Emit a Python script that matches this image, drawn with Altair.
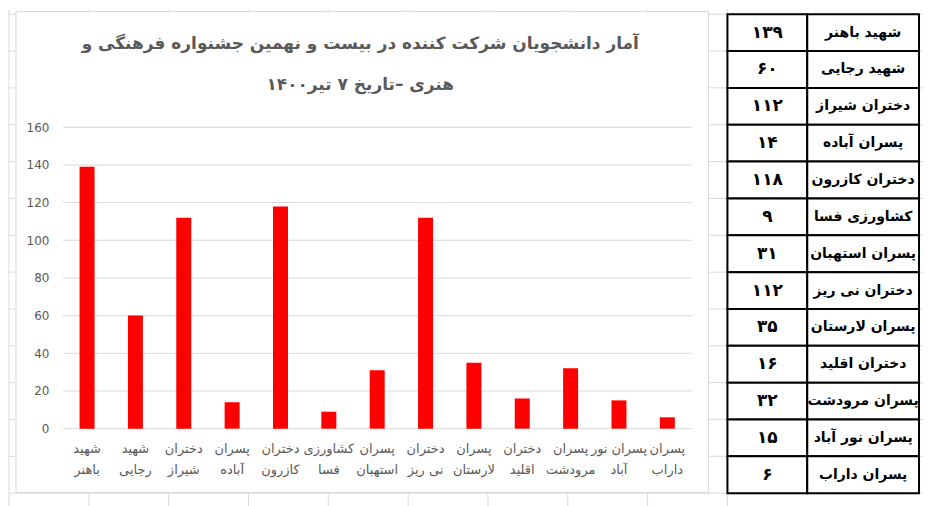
import altair as alt
import pandas as pd

# ---------------- data ----------------
categories = ["شهید باهنر", "شهید رجایی", "دختران شیراز", "پسران آباده", "دختران کازرون",
              "کشاورزی فسا", "پسران استهبان", "دختران نی ریز", "پسران لارستان", "دختران اقلید",
              "پسران مرودشت", "پسران نور آباد", "پسران داراب"]
axis_labels = ["شهید|باهنر", "شهید|رجایی", "دختران|شیراز", "پسران|آباده", "دختران|کازرون",
               "کشاورزی|فسا", "پسران|استهبان", "دختران|نی ریز", "پسران|لارستان", "دختران|اقلید",
               "پسران|مرودشت", "پسران نور|آباد", "پسران|داراب"]
values = [139, 60, 112, 14, 118, 9, 31, 112, 35, 16, 32, 15, 6]
values_fa = ["۱۳۹", "۶۰", "۱۱۲", "۱۴", "۱۱۸", "۹", "۳۱", "۱۱۲", "۳۵", "۱۶", "۳۲", "۱۵", "۶"]
y_ticks = [0, 20, 40, 60, 80, 100, 120, 140, 160]
title_lines = ["آمار دانشجویان شرکت کننده در بیست و نهمین جشنواره فرهنگی و",
               "هنری –تاریخ ۷ تیر۱۴۰۰"]

bars_df = pd.DataFrame({"label": axis_labels, "name": categories, "value": values})
ticks_df = pd.DataFrame({"value": y_ticks})
table_df = pd.DataFrame({"name": categories, "value_fa": values_fa})
one = pd.DataFrame({"k": [0]})

# ---------------- style ----------------
FONT = "DejaVu Sans"
TXT = "#595959"
GRID = "#d9d9d9"
EXCEL = "#dadada"
W, H = 630, 302

# Excel sheet gridlines behind the chart frame (decoration)
excel_v = [-54, 26, 106, 186, 266, 346, 426, 506, 586, 666]
excel_h = [-113.3 + 36.92 * k for k in range(14)]
deco = []
for xv in excel_v:
    deco.append(alt.Chart(one).mark_rule(color=EXCEL, strokeWidth=1).encode(
        x=alt.value(xv), y=alt.value(-118), y2=alt.value(380)))
for yv in excel_h:
    deco.append(alt.Chart(one).mark_rule(color=EXCEL, strokeWidth=1).encode(
        y=alt.value(yv), x=alt.value(-54), x2=alt.value(862)))

frame = alt.Chart(one).mark_rect(fill="white", stroke=GRID, strokeWidth=1).encode(
    x=alt.value(-47), x2=alt.value(647), y=alt.value(-116), y2=alt.value(366))

title = alt.Chart(one).mark_text(
    text=title_lines, font=FONT, fontSize=17, fontWeight="bold", color=TXT,
    align="center", baseline="middle", lineHeight=41,
).encode(x=alt.value(298), y=alt.value(-83))

y_axis = alt.Axis(values=y_ticks, labelFont=FONT, labelFontSize=12, labelColor=TXT,
                  grid=False, domain=False, ticks=False, labelPadding=14,
                  labelOverlap=False, zindex=1)
y_enc = alt.Y("value:Q", scale=alt.Scale(domain=[0, 160]), title=None, axis=y_axis)

gridlines = alt.Chart(ticks_df).mark_rule(color=GRID, strokeWidth=1).encode(y=y_enc)

bars = alt.Chart(bars_df).mark_bar(color="#ff0000").encode(
    x=alt.X("label:N", sort=axis_labels, title=None,
            scale=alt.Scale(paddingInner=0.69, paddingOuter=0.345),
            axis=alt.Axis(labelExpr="split(datum.label, '|')", labelAngle=0, labelFont=FONT,
                          labelFontSize=13, labelColor=TXT, labelLineHeight=21, labelPadding=14,
                          labelBaseline="top", ticks=False, domain=False, grid=False,
                          labelOverlap=False, zindex=1)),
    y=y_enc,
)

plot = alt.layer(gridlines, bars)

# ---------------- table ----------------
row_y = alt.Y("name:N", sort=categories, axis=None,
              scale=alt.Scale(paddingInner=0, paddingOuter=0, range=[-113.3, 366.7]))
tbase = alt.Chart(table_df)
cell_v = tbase.mark_rect(fill="white", stroke="black", strokeWidth=2).encode(
    y=row_y, x=alt.value(666), x2=alt.value(746))
cell_n = tbase.mark_rect(fill="white", stroke="black", strokeWidth=2).encode(
    y=row_y, x=alt.value(746), x2=alt.value(858))
txt_v = tbase.mark_text(font=FONT, fontWeight="bold", fontSize=17, color="black",
                        baseline="middle", align="center").encode(
    y=row_y, x=alt.value(706), text="value_fa:N")
txt_n = tbase.mark_text(font=FONT, fontWeight="bold", fontSize=14, color="black",
                        baseline="middle", align="center").encode(
    y=row_y, x=alt.value(802), text="name:N")
table = alt.layer(cell_v, cell_n, txt_v, txt_n)

chart = alt.layer(*deco, frame, title, plot, table).resolve_scale(
    y="independent"
).properties(
    width=W, height=H, padding=0, background="white"
).configure_view(stroke=None)

chart.save("out.html", embed_options={"renderer": "svg", "actions": False})
